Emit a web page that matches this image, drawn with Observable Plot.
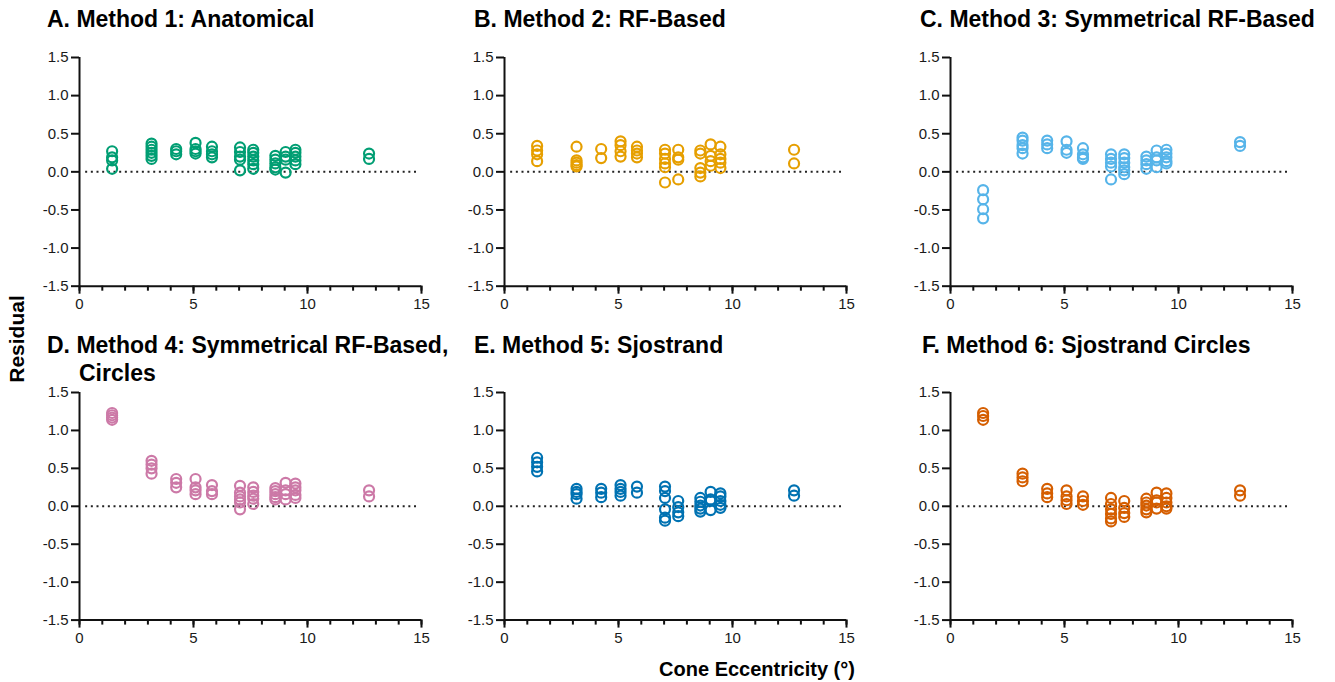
<!DOCTYPE html>
<html>
<head>
<meta charset="utf-8">
<script src="https://cdn.jsdelivr.net/npm/d3@7"></script>
<script src="https://cdn.jsdelivr.net/npm/@observablehq/plot@0.6"></script>
<style>
  body { margin: 0; background: #fff; }
  #wrap { position: relative; width: 1335px; height: 682px; overflow: hidden; background: #fff; }
  #wrap svg.panel { position: absolute; }
  #wrap svg.panel text { font-size: 15px !important; font-family: 'Liberation Sans', Arial, Helvetica, sans-serif; }
  #overlay { position: absolute; left: 0; top: 0; pointer-events: none; }
</style>
</head>
<body>
<div id="wrap"></div>
<script>
// Cone eccentricity (deg) of each measurement location
const eccentricity = [1.43, 3.16, 4.24, 5.09, 5.81, 7.04, 7.62, 8.59, 9.04, 9.47, 12.7];

// Residuals, one group per eccentricity (same order as above)
const method1 = [
  [0.27, 0.19, 0.15, 0.04], [0.37, 0.33, 0.29, 0.25, 0.21, 0.17], [0.30, 0.27, 0.23],
  [0.38, 0.30, 0.27, 0.24], [0.33, 0.27, 0.23, 0.19], [0.32, 0.26, 0.20, 0.16, 0.02],
  [0.29, 0.25, 0.20, 0.15, 0.10, 0.04], [0.21, 0.16, 0.11, 0.06, 0.03], [0.26, 0.20, 0.16, -0.01],
  [0.29, 0.25, 0.20, 0.15, 0.10], [0.24, 0.17]
];
const method2 = [
  [0.34, 0.28, 0.23, 0.14], [0.33, 0.15, 0.12, 0.09, 0.07], [0.30, 0.18],
  [0.40, 0.35, 0.27, 0.20], [0.33, 0.28, 0.24, 0.19], [0.29, 0.24, 0.17, 0.11, 0.06, -0.14],
  [0.29, 0.19, 0.16, -0.10], [0.28, 0.24, 0.05, -0.01, -0.06], [0.36, 0.21, 0.14, 0.08],
  [0.33, 0.23, 0.17, 0.12, 0.05], [0.29, 0.11]
];
const method3 = [
  [-0.24, -0.36, -0.49, -0.61], [0.45, 0.41, 0.35, 0.31, 0.24], [0.41, 0.36, 0.31],
  [0.40, 0.29, 0.25], [0.31, 0.23, 0.19, 0.17], [0.23, 0.17, 0.12, 0.07, -0.10],
  [0.23, 0.18, 0.12, 0.06, 0.02, -0.03], [0.20, 0.15, 0.10, 0.04], [0.28, 0.19, 0.15, 0.06],
  [0.29, 0.24, 0.19, 0.14, 0.11], [0.39, 0.34]
];
const method4 = [
  [1.23, 1.20, 1.17, 1.14], [0.60, 0.55, 0.50, 0.43], [0.36, 0.31, 0.25],
  [0.36, 0.25, 0.21, 0.16], [0.28, 0.20, 0.16], [0.27, 0.18, 0.13, 0.09, 0.05, -0.04],
  [0.25, 0.19, 0.14, 0.10, 0.03], [0.24, 0.20, 0.16, 0.12, 0.09], [0.31, 0.21, 0.16, 0.09],
  [0.30, 0.25, 0.21, 0.15, 0.11], [0.21, 0.13]
];
const method5 = [
  [0.64, 0.58, 0.52, 0.46], [0.23, 0.19, 0.16, 0.10], [0.23, 0.18, 0.12],
  [0.28, 0.23, 0.19, 0.14], [0.26, 0.18], [0.26, 0.20, 0.11, -0.04, -0.15, -0.19],
  [0.07, -0.01, -0.08, -0.13], [0.11, 0.06, 0.01, -0.03, -0.07], [0.19, 0.09, 0.07, -0.05],
  [0.17, 0.13, 0.07, 0.02, -0.02], [0.21, 0.14]
];
const method6 = [
  [1.23, 1.19, 1.14], [0.43, 0.38, 0.33], [0.23, 0.17, 0.12],
  [0.21, 0.13, 0.08, 0.03], [0.13, 0.07, 0.02], [0.11, 0.03, -0.04, -0.10, -0.16, -0.20],
  [0.07, -0.02, -0.09, -0.14], [0.10, 0.05, 0.01, -0.04, -0.08], [0.18, 0.08, 0.05, -0.03],
  [0.17, 0.11, 0.05, 0.00, -0.03], [0.21, 0.14]
];

const titles = [
  ["A. Method 1: Anatomical"],
  ["B. Method 2: RF-Based"],
  ["C. Method 3: Symmetrical RF-Based"],
  ["D. Method 4: Symmetrical RF-Based,", "Circles"],
  ["E. Method 5: Sjostrand"],
  ["F. Method 6: Sjostrand Circles"]
];
const colors = ["#009E73", "#E69F00", "#56B4E9", "#CC79A7", "#0072B2", "#D55E00"];
const yTicks = [-1.5, -1.0, -0.5, 0.0, 0.5, 1.0, 1.5];
const xMajorTicks = [0, 5, 10, 15];
const xMinorTicks = [0, 1, 2, 3, 4, 5, 6, 7, 8, 9, 10, 11, 12, 13, 14, 15];
const yLabel = "Residual";
const xLabel = "Cone Eccentricity (°)";

const methods = [method1, method2, method3, method4, method5, method6];

// layout (pixel geometry, not data)
const colX = [79, 504, 950];
const rowY = [57.3, 391.7];
const rowH = [228.7, 227.6];
const frameW = 342;
const mL = 50, mR = 12, mT = 12, mB = 34;

const wrap = document.getElementById("wrap");
const FONT = "'Liberation Sans', Arial, Helvetica, sans-serif";

methods.forEach((groups, i) => {
  const rows = [];
  groups.forEach((vals, g) => vals.forEach(v => rows.push({ecc: eccentricity[g], res: v})));
  const col = i % 3, row = Math.floor(i / 3);
  const svg = Plot.plot({
    width: mL + frameW + mR,
    height: mT + rowH[row] + mB,
    marginLeft: mL, marginRight: mR, marginTop: mT, marginBottom: mB,
    x: {domain: [0, 15]},
    y: {domain: [-1.5, 1.5]},
    style: {fontFamily: FONT, fontSize: "15px", color: "#1a1a1a", background: "transparent", overflow: "visible"},
    marks: [
      Plot.ruleY([0], {x1: 0.27, x2: 14.9, stroke: "#222", strokeWidth: 2, strokeDasharray: "2,3.67"}),
      Plot.axisY({ticks: yTicks, tickFormat: d => d.toFixed(1), tickSize: 8, tickPadding: 3, strokeWidth: 2, stroke: "#111", fill: "#1a1a1a", label: null}),
      Plot.axisX({ticks: xMinorTicks, tickSize: 5, tickFormat: () => "", strokeWidth: 2, stroke: "#111", label: null}),
      Plot.axisX({ticks: xMajorTicks, tickSize: 8, tickPadding: 4, strokeWidth: 2, stroke: "#111", fill: "#1a1a1a", label: null}),
      Plot.ruleX([0], {y1: -1.5, y2: 1.5, stroke: "#111", strokeWidth: 2}),
      Plot.ruleY([-1.5], {x1: 0, x2: 15, stroke: "#111", strokeWidth: 2}),
      Plot.dot(rows, {x: "ecc", y: "res", r: 5, stroke: colors[i], strokeWidth: 2.2, fill: "none"})
    ]
  });
  svg.classList.add("panel");
  svg.style.left = (colX[col] - mL) + "px";
  svg.style.top = (rowY[row] - mT) + "px";
  svg.style.maxWidth = "none";
  d3.select(svg).selectAll("g[aria-label*='tick label'], g[aria-label*='tick label'] text")
    .attr("font-size", 15).style("font-size", "15px");
  wrap.appendChild(svg);
});

// titles and axis labels
const ov = d3.select(wrap).append("svg").attr("id", "overlay")
  .attr("width", 1335).attr("height", 682)
  .style("font-family", FONT).style("font-weight", "bold").style("fill", "#000");

const titlePos = [[47, 27], [474, 27], [920, 27], [47, 353], [474, 353], [922, 353]];
titles.forEach((lines, i) => {
  ov.append("text").attr("x", titlePos[i][0]).attr("y", titlePos[i][1])
    .style("font-size", "23px").text(lines[0]);
  if (lines[1]) {
    ov.append("text").attr("x", 79).attr("y", 381).style("font-size", "23px").text(lines[1]);
  }
});
ov.append("text").attr("transform", "translate(24,339) rotate(-90)")
  .attr("text-anchor", "middle").style("font-size", "21px").text(yLabel);
ov.append("text").attr("x", 757).attr("y", 676)
  .attr("text-anchor", "middle").style("font-size", "20px").text(xLabel);
</script>
</body>
</html>
